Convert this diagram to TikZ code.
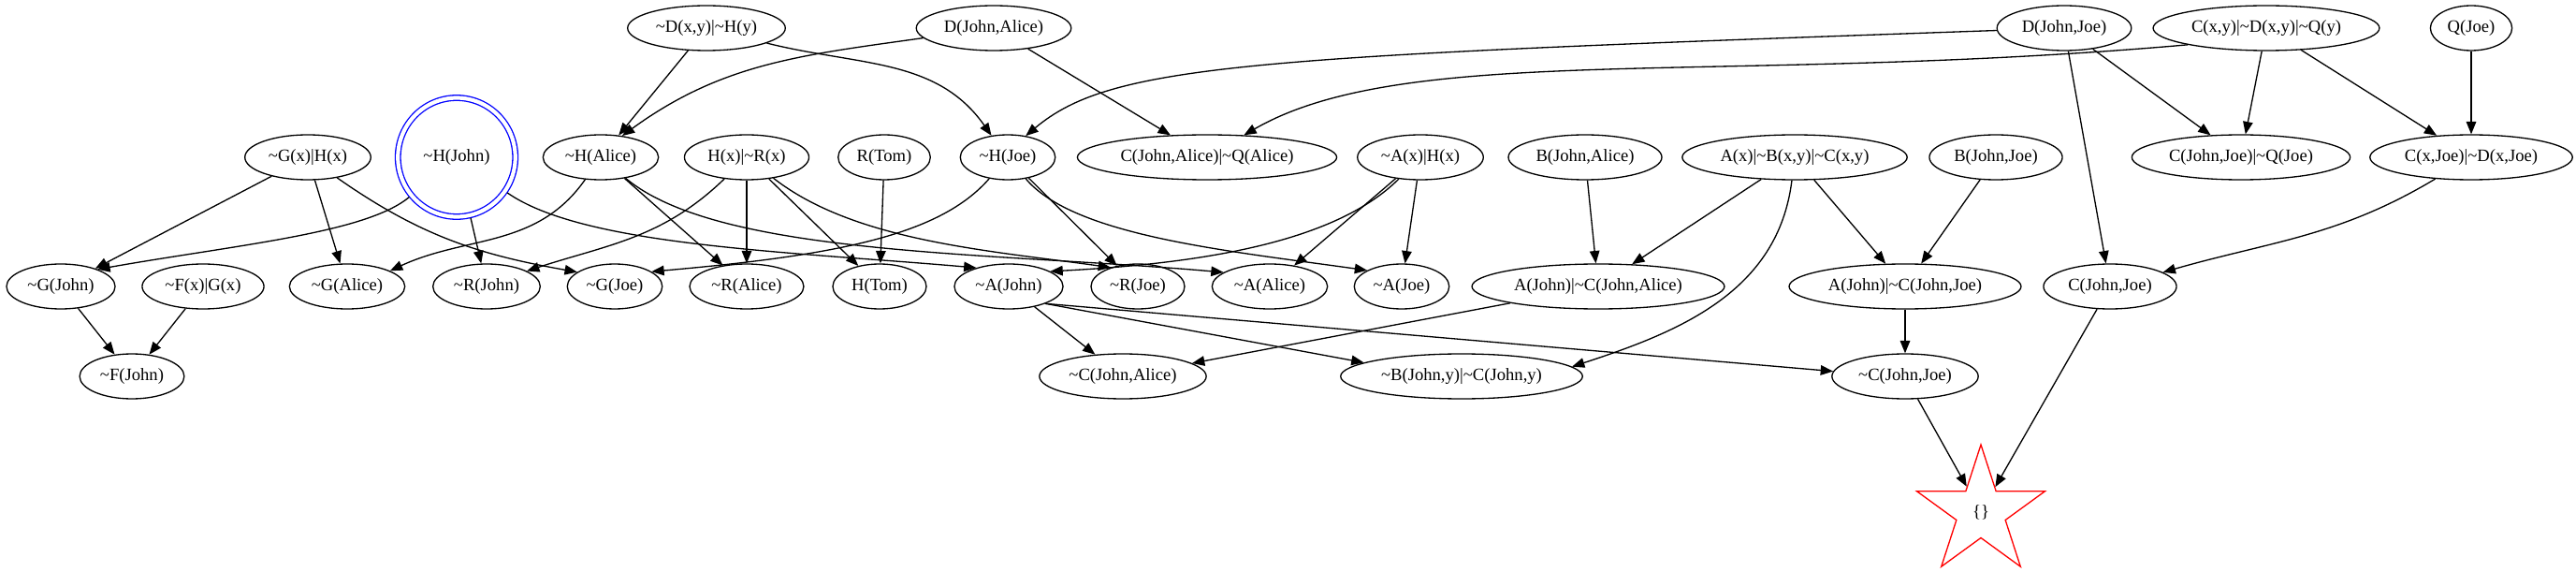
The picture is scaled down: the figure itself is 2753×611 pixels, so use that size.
\documentclass[tikz,border=0pt]{standalone}
\usepackage{fontspec}
\setmainfont{Liberation Serif}
\usetikzlibrary{arrows.meta,shapes.geometric}
\newcommand{\nt}{\textasciitilde}

\begin{document}
\begin{tikzpicture}[x=0.02cm, y=0.02cm, line width=0.75pt,
		>={Stealth[length=7.6pt,width=6pt,inset=0pt]},
		clause/.style={ellipse, draw, inner xsep=0.11cm, inner ysep=0pt,
			minimum height=0.96cm, font=\fontsize{10.6}{12}\selectfont}]
			\useasboundingbox (0,0) rectangle (2753,-611);
			% 第一行
			\node[clause] (dxy) at (755,-30) {\nt D(x,y)|\nt H(y)};
			\node[clause] (dja) at (1062,-30) {D(John,Alice)};
			\node[clause] (djj) at (2206,-30) {D(John,Joe)};
			\node[clause] (cxy) at (2422,-30) {C(x,y)|\nt D(x,y)|\nt Q(y)};
			\node[clause] (qjoe) at (2641,-30) {Q(Joe)};
			% 第二行
			\node[clause] (gxhx) at (329,-168) {\nt G(x)|H(x)};
			\node[clause, draw=blue, double, double distance=0.084cm, outer sep=0.06cm,
				minimum width=2.51cm, minimum height=2.54cm] (hjohn) at (488,-168) {\nt H(John)};
			\node[clause] (halice) at (642,-168) {\nt H(Alice)};
			\node[clause] (hxrx) at (798,-168) {H(x)|\nt R(x)};
			\node[clause] (rtom) at (945,-168) {R(Tom)};
			\node[clause] (hjoe) at (1077,-168) {\nt H(Joe)};
			\node[clause] (cjaqa) at (1290,-168) {C(John,Alice)|\nt Q(Alice)};
			\node[clause] (axhx) at (1518,-168) {\nt A(x)|H(x)};
			\node[clause] (bja) at (1694,-168) {B(John,Alice)};
			\node[clause] (axyz) at (1918,-168) {A(x)|\nt B(x,y)|\nt C(x,y)};
			\node[clause] (bjj) at (2133,-168) {B(John,Joe)};
			\node[clause] (cjjqj) at (2395,-168) {C(John,Joe)|\nt Q(Joe)};
			\node[clause] (cxjd) at (2641,-168) {C(x,Joe)|\nt D(x,Joe)};
			% 第三行
			\node[clause] (gjohn) at (65,-306) {\nt G(John)};
			\node[clause] (fxgx) at (217,-306) {\nt F(x)|G(x)};
			\node[clause] (galice) at (371,-306) {\nt G(Alice)};
			\node[clause] (rjohn) at (520,-306) {\nt R(John)};
			\node[clause] (gjoe) at (657,-306) {\nt G(Joe)};
			\node[clause] (ralice) at (798,-306) {\nt R(Alice)};
			\node[clause] (htom) at (940,-306) {H(Tom)};
			\node[clause] (ajohn) at (1078,-306) {\nt A(John)};
			\node[clause] (rjoe) at (1216,-306) {\nt R(Joe)};
			\node[clause] (aalice) at (1357,-306) {\nt A(Alice)};
			\node[clause] (ajoe) at (1498,-306) {\nt A(Joe)};
			\node[clause] (ajca) at (1708,-306) {A(John)|\nt C(John,Alice)};
			\node[clause] (ajcj) at (2036,-306) {A(John)|\nt C(John,Joe)};
			\node[clause] (cjj) at (2255,-306) {C(John,Joe)};
			% 第四行
			\node[clause] (fjohn) at (141,-402) {\nt F(John)};
			\node[clause] (ncja) at (1200,-402) {\nt C(John,Alice)};
			\node[clause] (nbjc) at (1562,-402) {\nt B(John,y)|\nt C(John,y)};
			\node[clause] (ncjj) at (2036,-402) {\nt C(John,Joe)};
			% 空子句
			\node[star, star points=5, star point ratio=2.618, minimum size=2.88cm, inner sep=0pt,
				draw=red, font=\fontsize{10.6}{12}\selectfont] (empty) at (2117,-547) {\{\}};
			% 直线
			\draw[->] (dxy) -- (halice);
			\draw[->] (dja) -- (cjaqa);
			\draw[->] (djj) -- (cjjqj);
			\draw[->] (djj) -- (cjj);
			\draw[->] (cxy) -- (cjjqj);
			\draw[->] (cxy) -- (cxjd);
			\draw[->] (qjoe) -- (cxjd);
			\draw[->] (gxhx) -- (gjohn);
			\draw[->] (gxhx) -- (galice);
			\draw[->] (hjohn) -- (rjohn);
			\draw[->] (halice) -- (ralice);
			\draw[->] (hxrx) -- (ralice);
			\draw[->] (hxrx) -- (htom);
			\draw[->] (rtom) -- (htom);
			\draw[->] (hjoe) -- (rjoe);
			\draw[->] (axhx) -- (aalice);
			\draw[->] (axhx) -- (ajoe);
			\draw[->] (bja) -- (ajca);
			\draw[->] (axyz) -- (ajca);
			\draw[->] (axyz) -- (ajcj);
			\draw[->] (bjj) -- (ajcj);
			\draw[->] (gjohn) -- (fjohn);
			\draw[->] (fxgx) -- (fjohn);
			\draw[->] (ajohn) -- (ncja);
			\draw[->] (ajca) -- (ncja);
			\draw[->] (ajcj) -- (ncjj);
			\draw[->] (ncjj) -- (empty);
			\draw[->] (cjj) -- (empty);
			\draw[->] (ajohn.-25) -- (nbjc.172);
			\draw[->] (ajohn.-25) -- (ncjj.176);
			% 曲线
			\draw[->] (dja) to[out=188,in=36] (halice.45);
			\draw[->] (dxy) to[out=-14,in=125] (hjoe.127);
			\draw[->] (djj) to[out=182,in=40,out distance=16cm,in distance=2.4cm] (hjoe.50);
			\draw[->] (cxy.192) to[out=185,in=30,out distance=10cm,in distance=4cm] (cjaqa.31);
			\draw[->] (hjohn) to[out=-140,in=10,out distance=1.2cm,in distance=3cm] (gjohn.25);
			\draw[->] (hjohn) to[out=-35,in=175,out distance=2cm,in distance=4cm] (ajohn.150);
			\draw[->] (gxhx) to[out=-35,in=170] (gjoe.159);
			\draw[->] (halice) to[out=-125,in=25] (galice.20);
			\draw[->] (halice) to[out=-40,in=175,out distance=2.6cm,in distance=5cm] (aalice.163);
			\draw[->] (hxrx) to[out=-136,in=18] (rjohn.21);
			\draw[->] (hxrx) to[out=-38,in=172,out distance=2.2cm,in distance=2.6cm] (rjoe.145);
			\draw[->] (hjoe) to[out=-131,in=5,out distance=1.6cm,in distance=4cm] (gjoe.22);
			\draw[->] (hjoe) to[out=-50,in=172,out distance=1.6cm,in distance=3cm] (ajoe.155);
			\draw[->] (axhx) to[out=-135,in=3,out distance=2cm,in distance=3cm] (ajohn.20);
			\draw[->] (axyz) to[out=-97,in=18] (nbjc.5);
			\draw[->] (cxjd) to[out=-149,in=16] (cjj.15);
		\end{tikzpicture}
\end{document}
